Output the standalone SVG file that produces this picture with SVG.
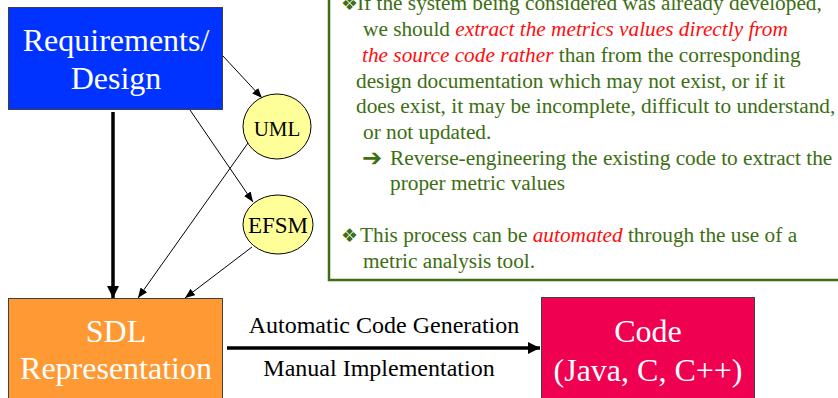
<svg xmlns="http://www.w3.org/2000/svg" width="838" height="398" viewBox="0 0 838 398">
  <style>
    .box { stroke: #404040; stroke-width: 1; }
    .big { font-size: 32px; fill: #ffffff; text-anchor: middle; }
    .oval { fill: #ffff99; stroke: #000000; stroke-width: 1; }
    .olabel { fill: #000000; text-anchor: middle; }
    .thin { stroke: #000000; stroke-width: 1; fill: none; marker-end: url(#headThin); }
    .thick { stroke: #000000; stroke-width: 3.5; fill: none; marker-end: url(#headThick); }
    .note { font-size: 21.3px; fill: #3d6e12; }
    .hi { fill: #ff0d0d; font-style: italic; }
    .sym { fill: #3d6e12; font-family: "DejaVu Sans", sans-serif; }
    .edge-label { font-size: 24px; fill: #000000; text-anchor: middle; }
  </style>
  <defs>
    <marker id="headThin" viewBox="0 0 10 8" refX="10" refY="4" markerWidth="10" markerHeight="8" markerUnits="userSpaceOnUse" orient="auto">
      <path d="M0,0 L10,4 L0,8 Z" fill="#000000"/>
    </marker>
    <marker id="headThick" viewBox="0 0 12 12" refX="12" refY="6" markerWidth="12" markerHeight="12" markerUnits="userSpaceOnUse" orient="auto">
      <path d="M0,0 L12,6 L0,12 Z" fill="#000000"/>
    </marker>
  </defs>

  <rect width="838" height="398" fill="#ffffff"/>

  <g font-family="'Liberation Serif', 'Times New Roman', serif">
  <!-- Note panel -->
  <g id="note">
    <rect x="329" y="-10" width="520" height="290" fill="none" stroke="#3d6e12" stroke-width="2.5"/>
    <text class="sym" x="341" y="10" font-size="19">❖</text>
    <text class="note" x="357" y="10">If the system being considered was already developed,</text>
    <text class="note" x="363" y="36">we should <tspan class="hi">extract the metrics values directly from</tspan></text>
    <text class="note" x="362" y="62"><tspan class="hi">the source code rather</tspan> than from the corresponding</text>
    <text class="note" x="356" y="88">design documentation which may not exist, or if it</text>
    <text class="note" x="356" y="113">does exist, it may be incomplete, difficult to understand,</text>
    <text class="note" x="363" y="139">or not updated.</text>
    <text class="sym" x="362" y="166" font-size="24" font-weight="bold">➔</text>
    <text class="note" x="390" y="165">Reverse-engineering the existing code to extract the</text>
    <text class="note" x="390" y="190">proper metric values</text>
    <text class="sym" x="341" y="242" font-size="19">❖</text>
    <text class="note" x="360" y="242">This process can be <tspan class="hi">automated</tspan> through the use of a</text>
    <text class="note" x="363" y="268">metric analysis tool.</text>
  </g>

  <!-- Connectors -->
  <g id="connectors">
    <line class="thin" x1="223" y1="56" x2="262" y2="98"/>
    <line class="thin" x1="190" y1="110" x2="253" y2="202"/>
    <line class="thin" x1="248" y1="143" x2="138" y2="298"/>
    <line class="thin" x1="252" y1="247" x2="185" y2="298"/>
    <line class="thick" x1="113" y1="112" x2="113" y2="298"/>
    <line class="thick" x1="227" y1="348" x2="540" y2="348"/>
    <text class="edge-label" x="384" y="333">Automatic Code Generation</text>
    <text class="edge-label" x="379" y="376">Manual Implementation</text>
  </g>

  <!-- Nodes -->
  <g id="requirements">
    <rect class="box" x="8.5" y="7.5" width="214" height="102" fill="#0033ff"/>
    <text class="big" x="116" y="51">Requirements/</text>
    <text class="big" x="116" y="89">Design</text>
  </g>

  <g id="uml">
    <ellipse class="oval" cx="277" cy="126.5" rx="34" ry="32.5"/>
    <text class="olabel" x="277" y="136" font-size="21">UML</text>
  </g>

  <g id="efsm">
    <ellipse class="oval" cx="278" cy="224.5" rx="35" ry="29.5"/>
    <text class="olabel" x="278" y="233" font-size="23">EFSM</text>
  </g>

  <g id="sdl">
    <rect class="box" x="8.5" y="298.5" width="214" height="110" fill="#ff9933"/>
    <text class="big" x="116" y="342">SDL</text>
    <text class="big" x="116" y="379">Representation</text>
  </g>

  <g id="code">
    <rect class="box" x="541.5" y="297.5" width="213" height="110" fill="#ef0050"/>
    <text class="big" x="648" y="342">Code</text>
    <text class="big" x="648" y="381">(Java, C, C++)</text>
  </g>
  </g>
</svg>
